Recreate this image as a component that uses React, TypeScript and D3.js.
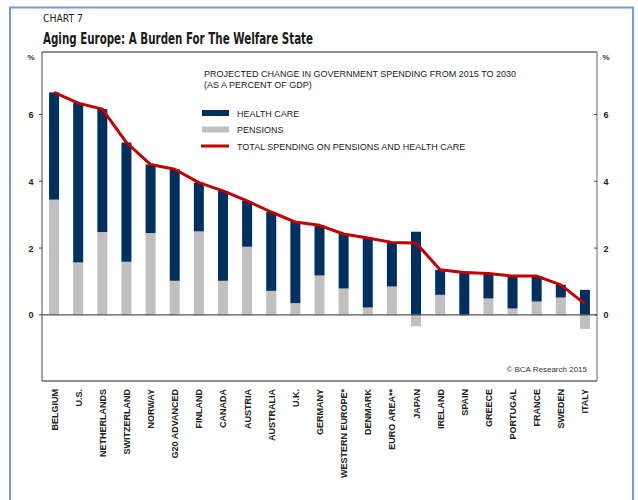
import React from 'react'
import * as d3 from 'd3'

const countries = [
  'BELGIUM', 'U.S.', 'NETHERLANDS', 'SWITZERLAND', 'NORWAY', 'G20 ADVANCED', 'FINLAND',
  'CANADA', 'AUSTRIA', 'AUSTRALIA', 'U.K.', 'GERMANY', 'WESTERN EUROPE*', 'DENMARK',
  'EURO AREA**', 'JAPAN', 'IRELAND', 'SPAIN', 'GREECE', 'PORTUGAL', 'FRANCE', 'SWEDEN', 'ITALY'
]
const pensions = [
  3.45, 1.57, 2.48, 1.59, 2.45, 1.02, 2.5, 1.02, 2.04, 0.72, 0.35, 1.18, 0.79, 0.22,
  0.85, -0.34, 0.6, -0.03, 0.49, 0.19, 0.4, 0.52, -0.42
]
const healthCare = [
  3.21, 4.77, 3.68, 3.57, 2.05, 3.34, 1.46, 2.69, 1.37, 2.36, 2.43, 1.5, 1.63, 2.08,
  1.32, 2.49, 0.75, 1.3, 0.75, 0.97, 0.76, 0.38, 0.75
]
const yTicks = [0, 2, 4, 6]

const legendItems = [
  { label: 'HEALTH CARE', kind: 'bar', color: '#00305f' },
  { label: 'PENSIONS', kind: 'bar', color: '#c0c0c0' },
  { label: 'TOTAL SPENDING ON PENSIONS AND HEALTH CARE', kind: 'line', color: '#c00000' },
]

const App = () => {
  const left = 42
  const right = 597
  const top = 52
  const bottom = 381
  const barW = 10

  const x = d3.scaleBand().domain(countries).range([left, right]).paddingInner(0.58).paddingOuter(0.29)
  const y = d3.scaleLinear().domain([-1.98, 7.87]).range([bottom, top])
  const cx = (c: string) => (x(c) as number) + x.bandwidth() / 2

  const totals = countries.map((c, i) => ({ c, v: pensions[i] + Math.max(healthCare[i], 0) }))
  const line = d3.line<{ c: string; v: number }>().x(d => cx(d.c)).y(d => y(d.v))

  const sans = 'Liberation Sans, Arial, sans-serif'
  const narrow = 'Liberation Sans Narrow, DejaVu Sans Condensed, Arial Narrow, sans-serif'

  return (
    <svg width={638} height={500} style={{ position: 'absolute', left: 0, top: 0, background: '#fff' }}>
      {/* outer blue frame */}
      <path d="M10,510 V7.5 H633 V510" fill="none" stroke="#6d9bd9" strokeWidth={2} />

      <text x={43} y={22} fontFamily={narrow} fontSize={11} fill="#222" textLength={40} lengthAdjust="spacingAndGlyphs">CHART 7</text>
      <text x={43} y={44} fontFamily={narrow} fontSize={16} fontWeight="bold" fill="#1a1a1a"
        textLength={270} lengthAdjust="spacingAndGlyphs">
        Aging Europe: A Burden For The Welfare State
      </text>

      {/* plot frame */}
      <line x1={left} x2={right} y1={top} y2={top} stroke="#222" strokeWidth={1} />
      <line x1={left} x2={left} y1={top} y2={bottom} stroke="#444" strokeWidth={1} />
      <line x1={right} x2={right} y1={top} y2={bottom} stroke="#999" strokeWidth={1.5} />
      <line x1={left} x2={right} y1={bottom} y2={bottom} stroke="#666" strokeWidth={1.5} />

      {/* y axes */}
      <text x={31} y={60} textAnchor="middle" fontFamily={sans} fontSize={8} fontWeight="bold" fill="#333">%</text>
      <text x={606} y={60} textAnchor="middle" fontFamily={sans} fontSize={8} fontWeight="bold" fill="#333">%</text>
      {yTicks.map(t => (
        <g key={t}>
          <line x1={left - 3} x2={left} y1={y(t)} y2={y(t)} stroke="#444" />
          <line x1={right - 3} x2={right} y1={y(t)} y2={y(t)} stroke="#444" />
          <text x={31} y={y(t) + 3.5} textAnchor="middle" fontFamily={sans} fontSize={9} fontWeight="bold" fill="#222">{t}</text>
          <text x={606} y={y(t) + 3.5} textAnchor="middle" fontFamily={sans} fontSize={9} fontWeight="bold" fill="#222">{t}</text>
        </g>
      ))}

      {/* bars */}
      {countries.map((c, i) => {
        const p = pensions[i]
        const h = healthCare[i]
        const base = Math.max(p, 0)
        return (
          <g key={c}>
            <rect x={cx(c) - barW / 2} width={barW} y={Math.min(y(p), y(0))} height={Math.abs(y(p) - y(0))} fill="#c0c0c0" />
            <rect x={cx(c) - barW / 2} width={barW} y={y(base + h)} height={y(base) - y(base + h)} fill="#00305f" />
          </g>
        )
      })}

      <line x1={left} x2={right} y1={y(0)} y2={y(0)} stroke="#555" strokeWidth={1.2} />

      <path d={line(totals) as string} fill="none" stroke="#c00000" strokeWidth={3} strokeLinejoin="round" />

      {/* category labels */}
      {countries.map(c => (
        <text key={c} transform={`translate(${cx(c) + 3.5},389) rotate(-90)`} textAnchor="end"
          fontFamily={sans} fontSize={9} fontWeight="bold" fill="#222">{c}</text>
      ))}

      {/* legend */}
      <text x={204} y={77} fontFamily={sans} fontSize={9} fill="#222">PROJECTED CHANGE IN GOVERNMENT SPENDING FROM 2015 TO 2030</text>
      <text x={204} y={88} fontFamily={sans} fontSize={9} fill="#222">(AS A PERCENT OF GDP)</text>
      {legendItems.map((it, i) => {
        const ly = 113 + i * 16.5
        return (
          <g key={it.label}>
            {it.kind === 'bar'
              ? <rect x={202} y={ly - 3} width={27} height={6} fill={it.color} />
              : <line x1={201} x2={229} y1={ly} y2={ly} stroke={it.color} strokeWidth={3} />}
            <text x={237} y={ly + 3.5} fontFamily={sans} fontSize={9} fill="#222">{it.label}</text>
          </g>
        )
      })}

      <text x={587} y={372} textAnchor="end" fontFamily={sans} fontSize={8} fill="#333">© BCA Research 2015</text>
    </svg>
  )
}

export default App
